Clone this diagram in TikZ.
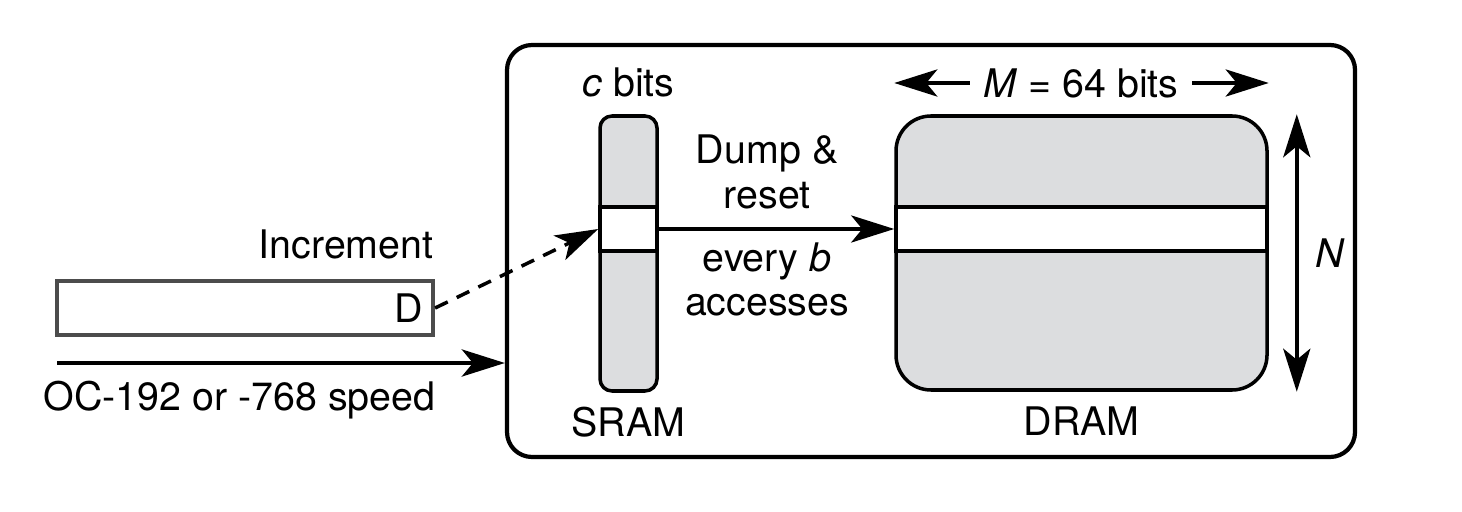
\documentclass[tikz,border=0pt]{standalone}
\usepackage{fontspec}
\setmainfont{TeX Gyre Heros}
\usetikzlibrary{arrows.meta, positioning}
\usepackage{xcolor}
\definecolor{memgray}{HTML}{DCDDDF}
\def\bandh{0.44cm}

\begin{document}
\begin{tikzpicture}[>={Stealth[length=4.3mm,width=2.7mm,inset=1.1mm]}, line width=1pt, font=\fontsize{11.2}{12.8}\selectfont]
    \tikzstyle{mem}=[draw=black, fill=memgray, inner sep=0pt]
    \tikzstyle{band}=[draw=black, fill=white, inner sep=0pt, minimum height=\bandh]
    \tikzstyle{arr}=[->, line width=1.3pt]
    \tikzstyle{lab}=[align=center, inner sep=2pt]

    \useasboundingbox (0,0) rectangle (14.62,5.11);

    % Draw the outer box
    \node[draw, rounded corners=0.25cm, minimum width=8.48cm, minimum height=4.12cm, line width=1.2pt] (chip) at (9.31,2.60) {};

    % Draw the SRAM and DRAM blocks
    \node[mem, rounded corners=0.12cm, minimum width=0.57cm, minimum height=2.75cm] (sram) at (6.285,2.575) {};
    \node[band, minimum width=0.57cm] (sband) at (6.285,2.82) {};
    \node[mem, rounded corners=0.35cm, minimum width=3.71cm, minimum height=2.74cm] (dram) at (10.815,2.58) {};
    \node[band, minimum width=3.71cm] (dband) at (10.815,2.82) {};

    \node[above=0.04cm of sram] (cbits) {\textit{c} bits};
    \node[below=0.01cm of sram] (sramlab) {SRAM};
    \node[below=0.02cm of dram] (dramlab) {DRAM};

    % Draw the increment register
    \node[draw=black!70, line width=1.2pt, minimum width=3.76cm, minimum height=0.54cm, inner sep=0pt] (inc) at (2.45,2.03) {};
    \node[anchor=east, inner sep=0pt] (D) at ([xshift=-0.1cm]inc.east) {D};
    \node[anchor=base east, inner sep=0pt] (inclab) at ([yshift=0.2cm]inc.north east) {Increment};

    % Line input
    \coordinate (line) at (0.57,1.48);
    \draw[arr] (line) -- (line -| chip.west);
    \node[anchor=base west, inner sep=0pt] (speed) at (0.42,1.01) {OC-192 or -768 speed};

    \draw[->, dash pattern=on 1.4mm off 1mm] (inc.east) -- (sband.west);

    \draw[arr] (sband.east) -- node[lab, above=0.11cm, pos=0.46] {Dump \&\\reset} node[lab, below=0.04cm, pos=0.46] {every \textit{b}\\accesses} (dband.west);

    % Width and depth of the DRAM
    \node[inner xsep=0.12cm] (mlab) at (10.81,4.28) {\textit{M} = 64 bits};
    \draw[arr] (mlab.west) -- (mlab.west -| dram.west);
    \draw[arr] (mlab.east) -- (mlab.east -| dram.east);
    \draw[arr, <->] ([xshift=0.28cm]dram.north east) -- node[right=0.05cm] {\textit{N}} ([xshift=0.28cm]dram.south east);
\end{tikzpicture}
\end{document}
